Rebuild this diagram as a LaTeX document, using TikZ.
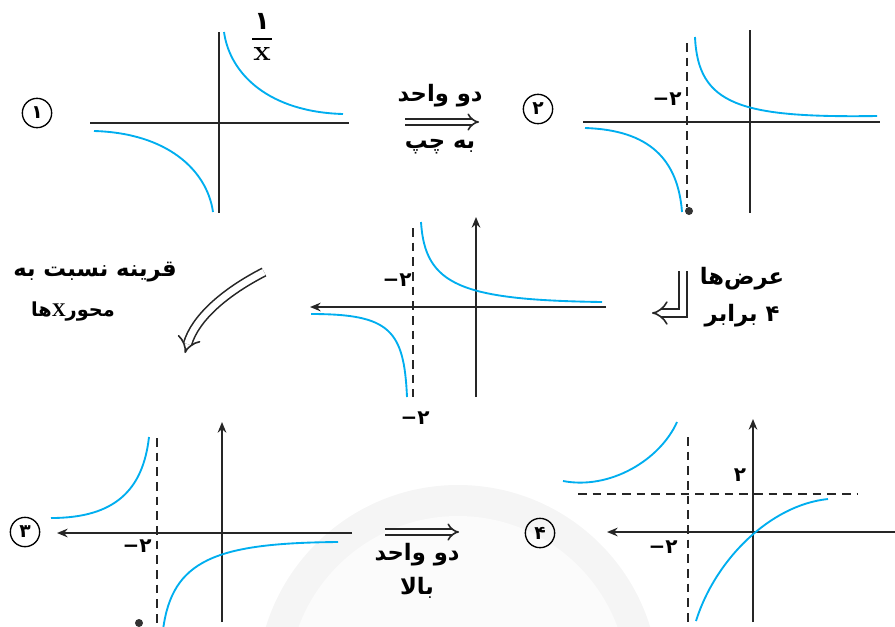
\documentclass[tikz,border=0pt]{standalone}
\usepackage{fontspec}
\usepackage{amsmath}
\usetikzlibrary{arrows.meta}
\TeXXeTstate=1
\newfontfamily\fa[Script=Arabic]{DejaVu Sans}
\newfontfamily\lat{DejaVu Sans}
\definecolor{curvecol}{RGB}{0,174,239}
\newcommand{\mtwo}{{\lat\bfseries\char"2212}{\fa\bfseries ۲}}
\begin{document}
\begin{tikzpicture}[x=0.75pt,y=-0.75pt,
  axis/.style={line width=1.3pt,black!85},
  axarr/.style={axis,-{Stealth[length=8pt,width=6.5pt]}},
  crv/.style={line width=1.4pt,curvecol},
  dsh/.style={line width=1.3pt,black!85,dash pattern=on 6.5pt off 4.5pt},
  dbl/.style={double=white,double distance=3.2pt,line width=1.2pt,black!85,-{Implies[length=5pt]}},
  numc/.style={circle,draw,line width=1pt,minimum size=22pt,inner sep=0pt,font=\fa\bfseries\fontsize{14}{14}\selectfont},
  ptxt/.style={font=\fa\bfseries\fontsize{17}{20}\selectfont,inner sep=1pt},
  stxt/.style={font=\fa\bfseries\fontsize{14.5}{17}\selectfont,inner sep=1pt},
  dig/.style={font=\fontsize{15}{17}\selectfont,inner sep=1pt},
  dotm/.style={circle,fill=black!80,inner sep=0pt,minimum size=6pt}]
\useasboundingbox (0,0) rectangle (895,626);
% watermark
\fill[black!4] (458,686) circle[radius=201];
\fill[black!1.5] (458,686) circle[radius=170];

% ---- panel 1
\node[numc] (c1) at (37,113) {١};
\draw[axis] (90,123) -- (349,123);
\draw[axis] (219,32) -- (219,213);
\draw[crv] (224,32) .. controls (230,75) and (270,112) .. (343,114);
\draw[crv] (94,131) .. controls (167,133) and (207,170) .. (213,212);
\node[inner sep=0pt,font=\fontsize{19}{19}\selectfont] (frac) at (262,37)
  {$\genfrac{}{}{1.1pt}{0}{\hbox{\fa\bfseries ۱}}{\hbox to 15pt{\hss\fontsize{22}{22}\selectfont\bfseries x\hss}}$};

% ---- arrow 1
\node[ptxt] (t1a) at (440,96) {\beginR دو واحد\endR};
\coordinate (a1s) at (405,122);
\coordinate (a1e) at (479,122);
\draw[dbl] (a1s) -- (a1e);
\node[ptxt] (t1b) at (440,147) {\beginR به چپ\endR};

% ---- panel 2
\node[numc] (c2) at (538,109) {۲};
\draw[axis] (583,122) -- (880,122);
\draw[axis] (750,30) -- (750,213);
\draw[dsh] (687,43) -- (687,207);
\node[dotm] (d2) at (689,211) {};
\node[dig] (l2) at (667,99) {\mtwo};
\draw[crv] (695,37) .. controls (698,105) and (740,118) .. (877,116);
\draw[crv] (585,128) .. controls (650,130) and (678,160) .. (682,212);

% ---- middle panel
\draw[axarr] (606,307) -- (310,307);
\draw[axarr] (476,397) -- (476,217);
\draw[dsh] (413,228) -- (413,397);
\node[dig] (lm1) at (397,280) {\mtwo};
\node[dig] (lm2) at (415,418) {\mtwo};
\draw[crv] (421,222) .. controls (425,285) and (460,300) .. (602,302);
\draw[crv] (311,314) .. controls (390,314) and (404,330) .. (407,397);

% ---- L arrow
\coordinate (las) at (683,271);
\coordinate (lae) at (652,313);
\draw[dbl,double distance=5pt] (las) |- (lae);
\node[ptxt] (t2a) at (742,279) {\beginR عرض‌ها\endR};
\node[ptxt] (t2b) at (742,316) {\beginR ۴ برابر\endR};

% ---- curved arrow
\coordinate (cas) at (264,272);
\coordinate (cae) at (185,353);
\draw[dbl,double distance=5pt] (cas) .. controls (225,292) and (195,318) .. (cae);
\node[ptxt] (t3a) at (95,272) {\beginR قرینه نسبت به\endR};
\node[stxt] (t3b) at (73,312) {\beginR محور{\fontspec{Liberation Serif}X}ها\endR};

% ---- panel 3
\node[numc] (c3) at (25,532) {۳};
\draw[axarr] (352,533) -- (57,533);
\draw[axarr] (222,622) -- (222,422);
\draw[dsh] (157,438) -- (157,630);
\node[dig] (l3) at (137,546) {\mtwo};
\node[dotm] (d3) at (139,623) {};
\draw[crv] (51,518) .. controls (115,518) and (143,490) .. (149,437);
\draw[crv] (163,630) .. controls (172,560) and (215,543) .. (338,542);

% ---- arrow 3
\coordinate (a3s) at (385,532);
\coordinate (a3e) at (459,532);
\draw[dbl] (a3s) -- (a3e);
\node[ptxt] (t4a) at (417,555) {\beginR دو واحد\endR};
\node[ptxt] (t4b) at (417,588) {\beginR بالا\endR};

% ---- panel 4
\node[numc] (c4) at (540,533) {۴};
\draw[axarr] (895,532) -- (607,532);
\draw[axarr] (753,622) -- (753,419);
\draw[dsh] (688,437) -- (688,630);
\draw[dsh] (578,494) -- (857,494);
\node[dig,font=\fa\bfseries\fontsize{15}{17}\selectfont] (l4a) at (740,475) {۲};
\node[dig] (l4b) at (663,547) {\mtwo};
\draw[crv] (563,481) .. controls (610,490) and (660,460) .. (677,422);
\draw[crv] (696,621) .. controls (715,560) and (770,505) .. (828,499);
\end{tikzpicture}
\end{document}
